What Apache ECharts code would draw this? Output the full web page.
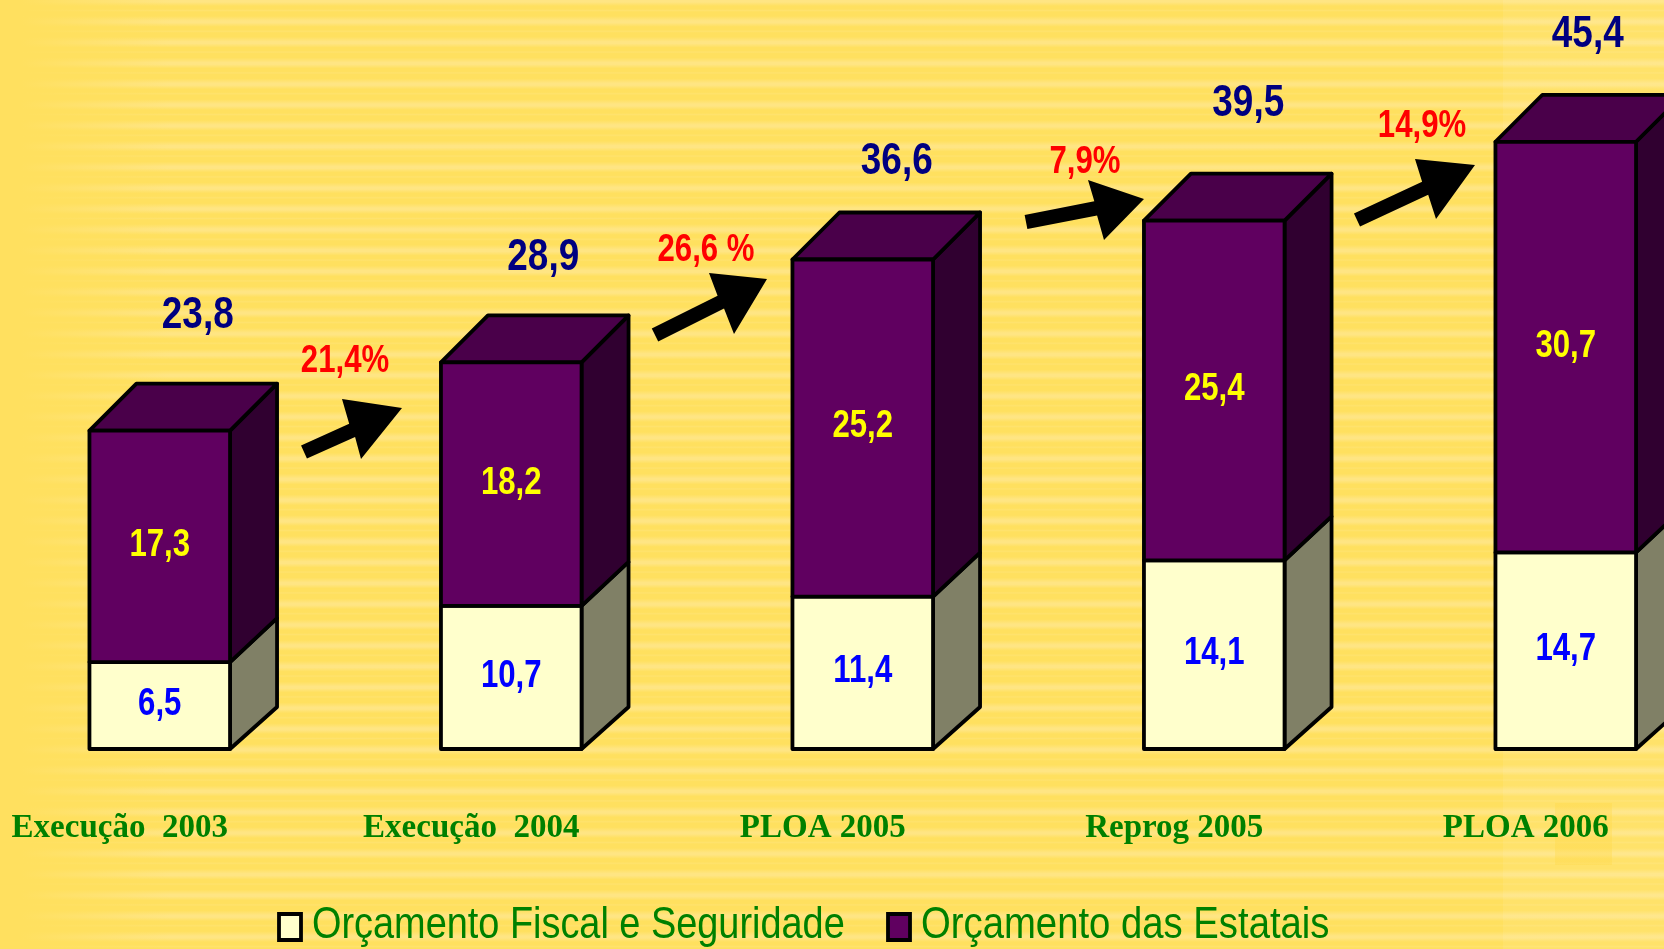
<!DOCTYPE html>
<html>
<head>
<meta charset="utf-8">
<title>Orçamento</title>
<script src="https://cdn.jsdelivr.net/npm/echarts@6/dist/echarts.min.js"></script>
<style>
  html, body { margin: 0; padding: 0; height: 100%; overflow: hidden; }
  body {
    background-color: #ffe05f;
    background-image:
      linear-gradient(rgba(255,216,70,.35), rgba(255,216,70,.35)),
      linear-gradient(to right, rgba(255,255,255,0) 1503px, rgba(255,255,255,.07) 1503px),
      linear-gradient(to right, #ffe05f 20px, rgba(255,224,95,0) 170px),
      repeating-linear-gradient(to bottom, #ffe583 0, #ffe583 2px, #ffe05f 6px, #ffe05f 9px, #ffe26c 10.5px, #ffe05f 12px, #ffe05f 16px, #ffe583 20.8px);
    background-size: 57px 62px, auto, auto, auto;
    background-position: 1555px 803px, 0 0, 0 0, 0 0;
    background-repeat: no-repeat, no-repeat, no-repeat, repeat;
  }
  #main { width: 1664px; height: 949px; }
</style>
</head>
<body>
<div id="main"></div>
<script>
var categories = ['Execução  2003', 'Execução  2004', 'PLOA 2005', 'Reprog 2005', 'PLOA 2006'];
var fiscal = [6.5, 10.7, 11.4, 14.1, 14.7];
var estatais = [17.3, 18.2, 25.2, 25.4, 30.7];
var totals = [23.8, 28.9, 36.6, 39.5, 45.4];
var growth = ['21,4%', '26,6 %', '7,9%', '14,9%'];
var seriesNames = ['Orçamento Fiscal e Seguridade', 'Orçamento das Estatais'];

// layout only, pixels
var totalShift = [[38, -115], [32, -105], [34, -98], [34, -117], [22, -107]];
var growthPos = [[345, 362], [706, 251], [1085, 163], [1422, 127]];
var arrows = [
  [[304, 452], [402, 408], [342, 399], [361, 459]],
  [[655, 335], [767, 279], [709, 273], [734, 334]],
  [[1026, 222], [1144, 199], [1088, 180], [1104, 240]],
  [[1357, 220], [1475, 165], [1415, 159], [1436, 219]]
];

var narrow = 0.82;
var fontName = '"Liberation Sans", sans-serif';
var fmt = function (v) { return String(v).replace('.', ','); };

function label(x, y, text, color, size) {
  return { type: 'text', x: x, y: y, scaleX: narrow, z2: 10,
    style: { x: 0, y: 0, text: text, fill: color, font: 'bold ' + size + 'px ' + fontName, align: 'center', verticalAlign: 'middle' } };
}

function box(api, isTop, front, side, topColor, labelColor, labels) {
  var i = api.value(0);
  var base = api.value(1);
  var end = api.value(2);
  var c0 = api.coord([i, base]);
  var c1 = api.coord([i, end]);
  var w = api.size([1, 0])[0] * 0.4;
  var x = c0[0] - w / 2, r = x + w;
  var dx = 47;
  var dyBase = base === 0 ? 42 : 44;
  var dyTop = isTop ? 47 : 44;
  var line = { stroke: '#000', lineWidth: 3.8, lineJoin: 'round' };
  var kids = [
    { type: 'polygon', shape: { points: [[r, c0[1]], [r + dx, c0[1] - dyBase], [r + dx, c1[1] - dyTop], [r, c1[1]]] },
      style: Object.assign({ fill: side }, line) }
  ];
  if (isTop) {
    kids.push({ type: 'polygon', shape: { points: [[x, c1[1]], [x + dx, c1[1] - dyTop], [r + dx, c1[1] - dyTop], [r, c1[1]]] },
      style: Object.assign({ fill: topColor }, line) });
  }
  kids.push({ type: 'rect', shape: { x: x, y: c1[1], width: w, height: c0[1] - c1[1] },
    style: Object.assign({ fill: front }, line) });
  kids.push(label(c0[0], (c0[1] + c1[1]) / 2 - 1, fmt(labels[i]), labelColor, 38));
  if (isTop) {
    kids.push(label(c0[0] + totalShift[i][0], c1[1] + totalShift[i][1], fmt(totals[i]), '#000080', 45));
  }
  return { type: 'group', children: kids };
}

// tail start, tip, and the two barbs of the arrow head
function arrowPoints(a) {
  var t = a[0], tip = a[1], b1 = a[2], b2 = a[3];
  var ux = tip[0] - t[0], uy = tip[1] - t[1];
  var len = Math.sqrt(ux * ux + uy * uy);
  var nx = -uy / len * 7.2, ny = ux / len * 7.2;
  var s = ((b1[0] + b2[0]) / 2 - t[0]) * ux / len + ((b1[1] + b2[1]) / 2 - t[1]) * uy / len;
  var nk = [t[0] + ux / len * s, t[1] + uy / len * s];
  return [[t[0] - nx, t[1] - ny], [nk[0] - nx, nk[1] - ny], b1, tip, b2, [nk[0] + nx, nk[1] + ny], [t[0] + nx, t[1] + ny]];
}

var graphics = [];
growth.forEach(function (g, k) {
  graphics.push(Object.assign(label(growthPos[k][0], growthPos[k][1], g, '#ff0000', 38), { z: 20 }));
  graphics.push({ type: 'polygon', shape: { points: arrowPoints(arrows[k]) }, style: { fill: '#000' }, z: 20 });
});

// legend: the text is squeezed like the original, which the legend component cannot do
var legendX = [279, 888];
var legendScale = [0.861, 0.87];
var legendColor = ['#ffffcc', '#600060'];
seriesNames.forEach(function (name, k) {
  graphics.push({ type: 'rect', shape: { x: legendX[k], y: 914, width: 22, height: 26 }, z: 20,
    style: { fill: legendColor[k], stroke: '#000', lineWidth: 3.8 } });
  graphics.push({ type: 'text', x: legendX[k] + 33, y: 926, scaleX: legendScale[k], z: 20,
    style: { x: 0, y: 0, text: name, fill: '#008000', font: '44px ' + fontName, align: 'left', verticalAlign: 'middle' } });
});

var chart = echarts.init(document.getElementById('main'));
chart.setOption({
  animation: false,
  grid: { left: -16, width: 1757.5, top: 0, bottom: 200, outerBoundsMode: 'none' },
  xAxis: {
    type: 'category', data: categories,
    axisLine: { show: false }, axisTick: { show: false },
    axisLabel: {
      color: '#008000', fontFamily: '"Liberation Serif", serif', fontWeight: 'bold', fontSize: 33,
      margin: 63, padding: [0, 80, 0, 0], interval: 0
    }
  },
  yAxis: { type: 'value', min: 0, max: 56, show: false },
  graphic: graphics,
  series: [
    {
      type: 'custom', name: seriesNames[0], clip: false,
      encode: { x: 0, y: 2 },
      data: fiscal.map(function (v, i) { return [i, 0, v]; }),
      renderItem: function (p, api) { return box(api, false, '#ffffcc', '#808066', null, '#0000ff', fiscal); }
    },
    {
      type: 'custom', name: seriesNames[1], clip: false,
      encode: { x: 0, y: 2 },
      data: estatais.map(function (v, i) { return [i, fiscal[i], fiscal[i] + v]; }),
      renderItem: function (p, api) { return box(api, true, '#600060', '#300030', '#4a004a', '#ffff00', estatais); }
    }
  ]
});
</script>
</body>
</html>
